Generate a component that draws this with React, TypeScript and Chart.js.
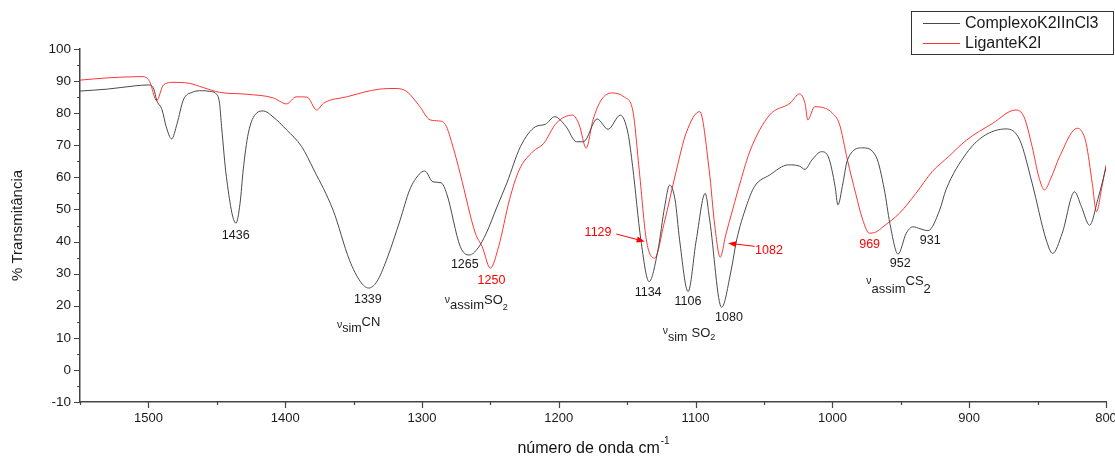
import { useEffect, useRef } from 'react';
import { Chart, registerables } from 'chart.js';

Chart.register(...registerables);

const FONT = '"Liberation Sans", Arial, sans-serif';

// ---- Data (wavenumber cm-1, % transmittance) ----
const complexoWn = [1550, 1530, 1510, 1500, 1496, 1494, 1490, 1487, 1483, 1479, 1474.5, 1468, 1461, 1455, 1451, 1448, 1446.5, 1443, 1436, 1433, 1430.7, 1427, 1421, 1416, 1409, 1399, 1388, 1379, 1365, 1353, 1345, 1339, 1333, 1326, 1316, 1309, 1302, 1298, 1292, 1286, 1282, 1272, 1265.5, 1259, 1253, 1245, 1238, 1228, 1217, 1210, 1203, 1195, 1187, 1182, 1172, 1164, 1155, 1149.4, 1146, 1140, 1134, 1127.5, 1122.6, 1119, 1115, 1111.7, 1105.5, 1099.5, 1093, 1089.7, 1081, 1074, 1070, 1063, 1057, 1046, 1032, 1024, 1020, 1015, 1008, 1003, 998, 996, 992.3, 989, 978, 968, 962, 958, 952, 946, 941, 936, 930, 921.6, 917, 902, 890, 873, 863, 854, 843.7, 839, 832, 823, 818, 812, 806, 800];
const complexoT = [86.9, 87.5, 88.5, 88.8, 87.5, 84.1, 81.0, 75.8, 72.0, 76.8, 84.1, 86.5, 87.0, 86.8, 86.2, 83.1, 75.8, 60.2, 45.7, 51.9, 62.3, 73.7, 80.0, 80.7, 78.9, 74.8, 69.6, 62.3, 49.8, 34.2, 27.5, 25.5, 27.5, 34.2, 46.7, 56.1, 61.0, 62.0, 58.6, 58.3, 55.0, 38.4, 35.8, 38.0, 42.6, 51.0, 58.2, 69.6, 75.8, 76.5, 78.9, 76.0, 71.1, 71.1, 78.2, 75.0, 79.4, 73.7, 63.3, 40.5, 27.5, 37.4, 50.9, 57.6, 53.0, 40.5, 24.4, 40.5, 55.0, 46.7, 19.5, 31.1, 40.5, 50.9, 57.1, 60.7, 63.9, 63.5, 62.5, 65.4, 68.0, 66.4, 57.1, 51.4, 58.2, 65.4, 69.2, 66.4, 56.1, 45.7, 36.1, 42.6, 44.6, 44.0, 43.4, 49.8, 56.1, 67.5, 72.7, 75.1, 71.6, 58.2, 40.5, 36.3, 42.6, 55.5, 50.9, 45.1, 53.1, 63.0];

const liganteWn = [1550, 1530, 1504, 1499, 1494, 1489, 1482, 1470, 1460, 1448, 1428, 1409, 1399, 1392, 1384, 1377, 1372, 1355, 1331, 1319, 1311, 1302, 1294, 1288, 1283, 1277, 1272, 1261, 1256, 1250, 1244, 1236, 1229, 1219, 1211, 1202, 1190, 1185, 1180, 1175, 1169, 1161, 1152, 1146, 1141, 1136, 1130, 1123, 1114, 1107, 1097, 1090, 1086, 1082, 1078, 1073, 1067, 1060, 1046, 1031, 1024, 1020, 1018, 1013, 1005, 1000, 995, 989, 983, 978, 973, 968, 963, 951, 939, 927, 915, 902, 883, 866, 860, 854, 849, 845, 840, 834, 821, 818, 814.5, 810, 807, 803, 800];
const liganteT = [90.3, 91.0, 91.4, 89.8, 83.9, 88.8, 89.6, 89.3, 88.0, 86.5, 85.9, 84.8, 82.9, 85.1, 85.0, 81.0, 83.1, 85.1, 87.5, 87.7, 86.7, 82.3, 77.9, 77.6, 76.5, 69.0, 61.0, 42.6, 38.4, 31.7, 38.4, 53.1, 62.3, 68.0, 70.6, 76.8, 79.4, 76.3, 69.1, 77.9, 84.1, 86.3, 85.0, 81.0, 61.3, 40.5, 34.8, 45.7, 62.3, 73.7, 80.5, 62.0, 45.0, 35.1, 42.0, 49.8, 59.0, 68.5, 79.4, 83.1, 86.0, 83.0, 77.9, 82.0, 81.5, 80.0, 76.8, 65.4, 55.0, 47.0, 42.6, 43.0, 44.6, 48.8, 55.0, 61.8, 66.5, 71.6, 76.8, 81.0, 78.9, 69.6, 60.0, 56.1, 60.0, 66.4, 75.3, 74.5, 70.6, 58.0, 49.3, 57.0, 63.8];

const seriesNames = ['ComplexoK2IInCl3', 'LiganteK2I'];
const seriesColors = ['#4a4a4a', '#ff3535'];

// x ticks (major every 100, minor every 50), y ticks (major every 10, minor every 5)
const xMajorTicks = [800, 900, 1000, 1100, 1200, 1300, 1400, 1500];
const xMinorTicks = [850, 950, 1050, 1150, 1250, 1350, 1450, 1550];
const yMajorTicks = [-10, 0, 10, 20, 30, 40, 50, 60, 70, 80, 90, 100];
const yMinorTicks = [-5, 5, 15, 25, 35, 45, 55, 65, 75, 85, 95];

// peak labels (text centre in data coordinates)
const peakLabels = ['1436', '1339', '1265', '1250', '1129', '1134', '1106', '1080', '1082', '969', '952', '931'];
const peakLabelWn = [1436.2, 1339.6, 1268.7, 1249.2, 1171.3, 1134.7, 1105.6, 1075.6, 1046.4, 972.8, 950.4, 928.5];
const peakLabelT = [42.0, 21.8, 32.7, 27.8, 42.8, 24.1, 21.3, 16.4, 37.2, 39.2, 33.2, 40.4];
const peakLabelSeries = [0, 0, 0, 1, 1, 0, 0, 0, 1, 1, 0, 0];

// arrows (start -> tip) in data coordinates
const arrowStartWn = [1157.9, 1056.8];
const arrowStartT = [42.35, 38.5];
const arrowTipWn = [1137.2, 1076.3];
const arrowTipT = [40.0, 39.5];

// vibration mode labels: anchor (left, baseline) in data coordinates
const modeAnchorWn = [1362.2, 1283.3, 1124.0, 975.2];
const modeAnchorT = [11.8, 19.0, 9.0, 24.0];
type Piece = { t: string; s: number; dy: number; gap?: number };
const modePieces: Piece[][] = [
  [{ t: 'ν', s: 10.5, dy: -4 }, { t: 'sim', s: 12.5, dy: 0 }, { t: 'CN', s: 13, dy: -6 }],
  [{ t: 'ν', s: 10.5, dy: -6 }, { t: 'assim', s: 13, dy: 0 }, { t: 'SO', s: 13, dy: -5 }, { t: '2', s: 9, dy: 1 }],
  [{ t: 'ν', s: 10.5, dy: -7 }, { t: 'sim', s: 12.5, dy: 0, gap: 4 }, { t: 'SO', s: 13, dy: -4 }, { t: '2', s: 9, dy: -1 }],
  [{ t: 'ν', s: 10.5, dy: -9 }, { t: 'assim', s: 13, dy: 0 }, { t: 'CS', s: 13, dy: -8 }, { t: '2', s: 13, dy: 0 }],
];

const decorPlugin = {
  id: 'decor',
  afterDraw(chart: any) {
    const ctx: CanvasRenderingContext2D = chart.ctx;
    const xs = chart.scales.x;
    const ys = chart.scales.y;
    const area = chart.chartArea;
    ctx.save();

    // tick marks
    ctx.strokeStyle = '#444';
    ctx.lineWidth = 1.2;
    ctx.beginPath();
    xMajorTicks.forEach((v) => {
      const p = Math.round(xs.getPixelForValue(v)) + 0.5;
      ctx.moveTo(p, area.bottom);
      ctx.lineTo(p, area.bottom + 6);
    });
    xMinorTicks.forEach((v) => {
      const p = Math.round(xs.getPixelForValue(v)) + 0.5;
      ctx.moveTo(p, area.bottom);
      ctx.lineTo(p, area.bottom + 3);
    });
    yMajorTicks.forEach((v) => {
      const p = Math.round(ys.getPixelForValue(v)) + 0.5;
      ctx.moveTo(area.left, p);
      ctx.lineTo(area.left - 6, p);
    });
    yMinorTicks.forEach((v) => {
      const p = Math.round(ys.getPixelForValue(v)) + 0.5;
      ctx.moveTo(area.left, p);
      ctx.lineTo(area.left - 3, p);
    });
    ctx.stroke();

    // x axis title with superscript
    ctx.fillStyle = '#111';
    ctx.textBaseline = 'alphabetic';
    ctx.textAlign = 'left';
    const main = 'número de onda cm';
    ctx.font = `16px ${FONT}`;
    const wMain = ctx.measureText(main).width;
    ctx.font = `10px ${FONT}`;
    const wSup = ctx.measureText('-1').width;
    const cx = (area.left + area.right) / 2;
    const x0 = cx - (wMain + wSup) / 2;
    ctx.font = `16px ${FONT}`;
    ctx.fillText(main, x0, 453);
    ctx.font = `10px ${FONT}`;
    ctx.fillText('-1', x0 + wMain + 1, 444);

    // peak labels
    ctx.textAlign = 'center';
    ctx.textBaseline = 'middle';
    ctx.font = `12.5px ${FONT}`;
    peakLabels.forEach((txt, i) => {
      ctx.fillStyle = peakLabelSeries[i] === 1 ? '#ff0000' : '#1a1a1a';
      ctx.fillText(txt, xs.getPixelForValue(peakLabelWn[i]), ys.getPixelForValue(peakLabelT[i]));
    });

    // arrows
    ctx.strokeStyle = '#ff0000';
    ctx.fillStyle = '#ff0000';
    ctx.lineWidth = 1;
    arrowStartWn.forEach((_, i) => {
      const sx = xs.getPixelForValue(arrowStartWn[i]);
      const sy = ys.getPixelForValue(arrowStartT[i]);
      const tx = xs.getPixelForValue(arrowTipWn[i]);
      const ty = ys.getPixelForValue(arrowTipT[i]);
      const ang = Math.atan2(ty - sy, tx - sx);
      const hl = 8;
      const hw = 3;
      const bx = tx - hl * Math.cos(ang);
      const by = ty - hl * Math.sin(ang);
      ctx.beginPath();
      ctx.moveTo(sx, sy);
      ctx.lineTo(bx, by);
      ctx.stroke();
      ctx.beginPath();
      ctx.moveTo(tx, ty);
      ctx.lineTo(bx + hw * Math.sin(ang), by - hw * Math.cos(ang));
      ctx.lineTo(bx - hw * Math.sin(ang), by + hw * Math.cos(ang));
      ctx.closePath();
      ctx.fill();
    });

    // vibration mode labels
    ctx.fillStyle = '#1a1a1a';
    ctx.textAlign = 'left';
    ctx.textBaseline = 'alphabetic';
    modePieces.forEach((pieces, i) => {
      let px = xs.getPixelForValue(modeAnchorWn[i]);
      const py = ys.getPixelForValue(modeAnchorT[i]);
      pieces.forEach((p) => {
        ctx.font = `${p.s}px ${FONT}`;
        ctx.fillText(p.t, px, py + p.dy);
        px += ctx.measureText(p.t).width + (p.gap || 0);
      });
    });

    // legend
    ctx.strokeStyle = '#333';
    ctx.lineWidth = 1;
    ctx.strokeRect(911.5, 11.5, 202, 43);
    ctx.font = `16px ${FONT}`;
    ctx.textBaseline = 'middle';
    seriesNames.forEach((name, i) => {
      const ly = 23.5 + i * 20;
      ctx.strokeStyle = seriesColors[i];
      ctx.beginPath();
      ctx.moveTo(923, ly);
      ctx.lineTo(960, ly);
      ctx.stroke();
      ctx.fillStyle = '#1a1a1a';
      ctx.fillText(name, 965, ly);
    });

    ctx.restore();
  },
};

export default function App() {
  const ref = useRef<HTMLCanvasElement | null>(null);

  useEffect(() => {
    document.body.style.margin = '0';
    const canvas = ref.current;
    if (!canvas) return;
    const chart = new Chart(canvas, {
      type: 'line',
      data: {
        datasets: [
          {
            label: seriesNames[0],
            data: complexoWn.map((x, i) => ({ x, y: complexoT[i] })),
            borderColor: seriesColors[0],
            borderWidth: 1,
            pointRadius: 0,
            cubicInterpolationMode: 'monotone',
            fill: false,
          },
          {
            label: seriesNames[1],
            data: liganteWn.map((x, i) => ({ x, y: liganteT[i] })),
            borderColor: seriesColors[1],
            borderWidth: 1,
            pointRadius: 0,
            cubicInterpolationMode: 'monotone',
            fill: false,
          },
        ],
      },
      options: {
        responsive: false,
        animation: false,
        layout: { padding: { top: 49, right: 9, left: 0, bottom: 0 } },
        plugins: { legend: { display: false }, tooltip: { enabled: false } },
        scales: {
          x: {
            type: 'linear',
            reverse: true,
            min: 800,
            max: 1550,
            grid: { display: false, drawTicks: false },
            border: { display: true, color: '#444', width: 1.5 },
            afterBuildTicks: (scale: any) => {
              scale.ticks = xMajorTicks.map((v) => ({ value: v }));
            },
            afterFit: (scale: any) => {
              scale.height = 57;
            },
            ticks: {
              autoSkip: false,
              maxRotation: 0,
              padding: 9,
              color: '#1a1a1a',
              font: { family: FONT, size: 13 },
              callback: (v: any) => String(v),
            },
          },
          y: {
            min: -10,
            max: 100,
            grid: { display: false, drawTicks: false },
            border: { display: true, color: '#444', width: 1.5 },
            afterBuildTicks: (scale: any) => {
              scale.ticks = yMajorTicks.map((v) => ({ value: v }));
            },
            afterFit: (scale: any) => {
              scale.width = 80;
            },
            ticks: {
              padding: 9,
              color: '#1a1a1a',
              font: { family: FONT, size: 13.5 },
              callback: (v: any) => String(v),
            },
            title: {
              display: true,
              text: '% Transmitância',
              color: '#1a1a1a',
              font: { family: FONT, size: 15 },
              padding: { top: 9, bottom: 0 },
            },
          },
        },
      },
      plugins: [decorPlugin],
    } as any);
    return () => chart.destroy();
  }, []);

  return <canvas ref={ref} width={1115} height={459} style={{ display: 'block' }} />;
}
